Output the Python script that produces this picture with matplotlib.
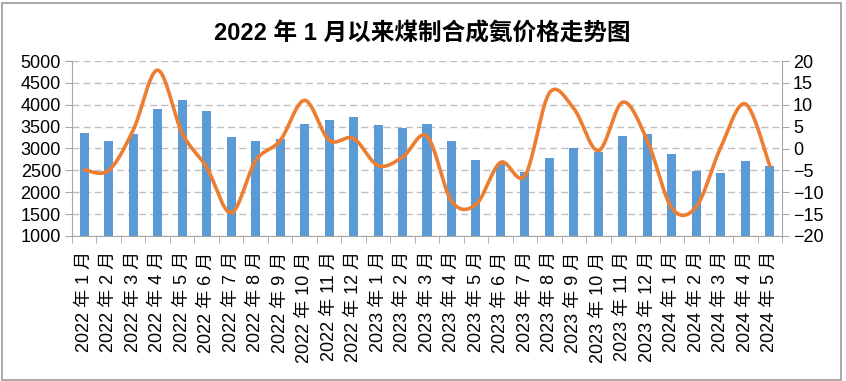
import numpy as np
import matplotlib
matplotlib.use('Agg')
import matplotlib.pyplot as plt
from matplotlib.patches import Rectangle

plt.rcParams['font.family'] = ['Liberation Sans', 'Noto Sans CJK SC']

months = ['2022 年 1 月', '2022 年 2 月', '2022 年 3 月', '2022 年 4 月', '2022 年 5 月',
          '2022 年 6 月', '2022 年 7 月', '2022 年 8 月', '2022 年 9 月', '2022 年 10 月',
          '2022 年 11 月', '2022 年 12 月', '2023 年 1 月', '2023 年 2 月', '2023 年 3 月',
          '2023 年 4 月', '2023 年 5 月', '2023 年 6 月', '2023 年 7 月', '2023 年 8 月',
          '2023 年 9 月', '2023 年 10 月', '2023 年 11 月', '2023 年 12 月', '2024 年 1 月',
          '2024 年 2 月', '2024 年 3 月', '2024 年 4 月', '2024 年 5 月']
price = [3360, 3160, 3330, 3910, 4110, 3850, 3260, 3160, 3220, 3570,
         3640, 3710, 3530, 3470, 3570, 3160, 2740, 2640, 2470, 2780,
         3020, 2930, 3290, 3330, 2870, 2480, 2430, 2710, 2610]
change = [-4.9, -5.0, 4.2, 17.9, 3.5, -4.3, -14.7, -2.8, 1.8, 11.0,
          1.9, 2.3, -3.9, -2.0, 2.8, -12.0, -12.8, -3.2, -6.2, 12.7,
          9.1, -0.5, 10.6, 1.8, -13.6, -13.3, 0.3, 10.2, -3.9]

x = np.arange(len(months))

# Excel-style smoothed line (bezier through the points)
def smooth(xs, ys, n=30):
    xs = np.asarray(xs, float)
    ys = np.asarray(ys, float)
    px = np.concatenate([[xs[0]], xs, [xs[-1]]])
    py = np.concatenate([[ys[0]], ys, [ys[-1]]])
    ox, oy = [], []
    t = np.linspace(0, 1, n)
    for i in range(1, len(px) - 2):
        p0 = np.array([px[i], py[i]])
        p3 = np.array([px[i + 1], py[i + 1]])
        p1 = p0 + (np.array([px[i + 1], py[i + 1]]) - np.array([px[i - 1], py[i - 1]])) / 6
        p2 = p3 - (np.array([px[i + 2], py[i + 2]]) - np.array([px[i], py[i]])) / 6
        b = ((1 - t) ** 3)[:, None] * p0 + (3 * (1 - t) ** 2 * t)[:, None] * p1 \
            + (3 * (1 - t) * t ** 2)[:, None] * p2 + (t ** 3)[:, None] * p3
        ox.extend(b[:, 0])
        oy.extend(b[:, 1])
    return np.array(ox), np.array(oy)

fig = plt.figure(figsize=(8.46, 3.81), dpi=100)
ax = fig.add_axes([72 / 846, 1 - 236 / 381, 710 / 846, 175 / 381])
ax2 = ax.twinx()

gray = '#A6A6A6'
ax.bar(x, price, width=0.37, color='#5B9BD5', zorder=2)
ax.set_ylim(1000, 5000)
ax.set_yticks(range(1000, 5001, 500))
ax.set_xlim(-0.5, len(months) - 0.5)
ax.grid(axis='y', color='#BFBFBF', linestyle=(0, (5, 3)), linewidth=1, zorder=0)
ax.set_axisbelow(True)

sx, sy = smooth(x, change)
ax2.plot(sx, sy, color='#ED7D31', linewidth=2.6, solid_capstyle='round', zorder=3)
ax2.set_ylim(-20, 20)
ax2.set_yticks(range(-20, 21, 5))

ax.set_xticks(x)
ax.set_xticklabels(months, rotation=90, va='top', ha='center')
ax.set_xticks(np.arange(-0.5, len(months), 1), minor=True)
ax.tick_params(axis='x', which='major', length=0, pad=11, labelsize=13)
ax.tick_params(axis='x', which='minor', length=5, color=gray, direction='out')
ax.tick_params(axis='y', length=5, color=gray, labelsize=13, pad=3)
ax2.tick_params(axis='y', length=5, color=gray, labelsize=13, pad=3)

for a in (ax, ax2):
    a.spines['top'].set_visible(False)
    for s in ('left', 'right', 'bottom'):
        a.spines[s].set_color(gray)
ax.spines['right'].set_visible(False)
ax2.spines['left'].set_visible(False)
ax2.spines['bottom'].set_visible(False)

fig.text(422 / 846, 1 - 34 / 381, '2022 年 1 月以来煤制合成氨价格走势图',
         ha='center', va='center', fontsize=17, fontweight='bold')

fig.patches.append(Rectangle((1.5 / 846, 1.5 / 381), 839.5 / 846, 377 / 381,
                             transform=fig.transFigure, fill=False,
                             edgecolor='#9A9A9A', linewidth=1.2))

fig.savefig('out.png', dpi=100)
